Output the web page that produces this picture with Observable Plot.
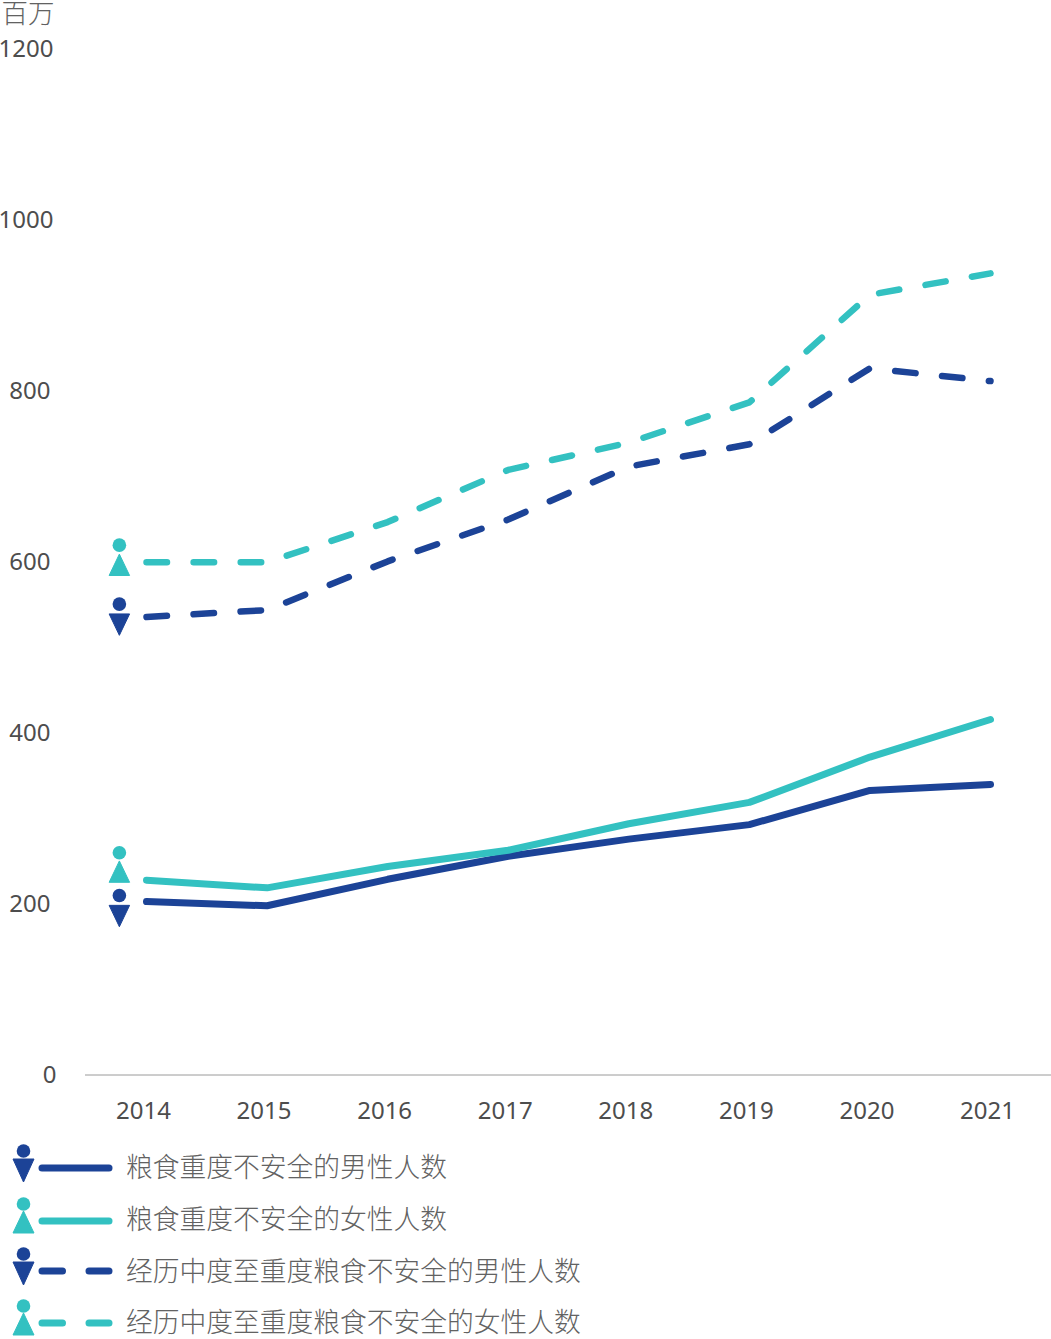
<!DOCTYPE html>
<html><head><meta charset="utf-8">
<script src="https://cdn.jsdelivr.net/npm/d3@7"></script>
<script src="https://cdn.jsdelivr.net/npm/@observablehq/plot@0.6"></script>
<style>
html,body{margin:0;padding:0;background:#fff;width:1051px;height:1339px;overflow:hidden}
#chart{position:absolute;left:0;top:0}
.row{position:absolute;left:0;height:52px;width:1051px}
.row svg{position:absolute;left:0;top:0}
.row span{position:absolute;left:126px;font:300 26.75px/40px "Noto Sans CJK SC";color:#626262;white-space:nowrap}
</style></head><body>
<div id="chart"></div><div id="legend"></div>
<script>
const years=[2014,2015,2016,2017,2018,2019,2020,2021];
const severeMale=[203,198,229,256,276,293,333,340];
const severeFemale=[228,219,244,263,294,319,372,416];
const modSevMale=[536,544,601,650,712,738,827,812];
const modSevFemale=[600,600,647,708,740,787,913,938];
const yTicksWide=[1000,1200];
const yTicksNarrow=[200,400,600,800];
const yTickZero=[0];
const navy="#1c4397", teal="#33c1c1";
const iconYear=2013.775;
const circleMale=[210,551], triangleMale=[186,527];
const circleFemale=[260,620], triangleFemale=[238,597];
const labels=["粮食重度不安全的男性人数","粮食重度不安全的女性人数","经历中度至重度粮食不安全的男性人数","经历中度至重度粮食不安全的女性人数"];

const table=v=>years.map((year,i)=>({year,value:v[i]}));
const tri=dir=>({draw(c,s){const k=Math.sqrt(s)/2,w=k*1.1,h=k*1.15;
  c.moveTo(-w,-dir*h);c.lineTo(w,-dir*h);c.lineTo(0,dir*h);c.closePath();}});
const down=tri(1), up=tri(-1);
const common={x:"year",y:"value",strokeLinecap:"round",strokeLinejoin:"round"};
const dash="20.5,26.6";
const yAxis=(ticks,tickPadding)=>Plot.axisY({ticks,tickFormat:d=>String(d),tickSize:0,tickPadding,fontSize:24,label:null,fill:"#4d4d4d"});
const chart=Plot.plot({
  width:1051,height:1135,marginLeft:85,marginRight:0,marginTop:49,marginBottom:60.5,
  style:{fontFamily:"'Noto Sans'",fontSize:"24px",color:"#4d4d4d",background:"#fff"},
  x:{domain:[2014,2021],range:[146,990]},
  y:{domain:[0,1200]},
  marks:[
    Plot.axisX({ticks:years,tickFormat:d=>String(d),tickSize:0,tickPadding:27,dx:-3,fontSize:24,label:null,fill:"#4d4d4d"}),
    yAxis(yTicksWide,32),
    yAxis(yTicksNarrow,35),
    yAxis(yTickZero,29),
    Plot.ruleY([0],{stroke:"#9a9a9a",strokeWidth:1}),
    Plot.text(["百万"],{frameAnchor:"top-left",dx:-84,dy:-45,lineAnchor:"top",textAnchor:"start",fontSize:26.5,fontFamily:"'Noto Sans CJK SC'",fontWeight:300,fill:"#626262"}),
    Plot.line(table(modSevFemale),{...common,stroke:teal,strokeWidth:6.5,strokeDasharray:dash}),
    Plot.line(table(modSevMale),{...common,stroke:navy,strokeWidth:6.5,strokeDasharray:dash}),
    Plot.line(table(severeMale),{...common,stroke:navy,strokeWidth:7}),
    Plot.line(table(severeFemale),{...common,stroke:teal,strokeWidth:7}),
    Plot.dot(circleMale,{x:()=>iconYear,y:d=>d,r:6.8,fill:navy}),
    Plot.dot(circleFemale,{x:()=>iconYear,y:d=>d,r:6.8,fill:teal}),
    Plot.dot(triangleMale,{x:()=>iconYear,y:d=>d,r:10.5,symbol:down,fill:navy,stroke:navy,strokeWidth:1,strokeLinejoin:"round"}),
    Plot.dot(triangleFemale,{x:()=>iconYear,y:d=>d,r:10.5,symbol:up,fill:teal,stroke:teal,strokeWidth:1,strokeLinejoin:"round"})
  ]
});
document.getElementById("chart").append(chart);

const rows=[
 {c:navy,male:true,dashed:false,top:1147,text:5},
 {c:teal,male:false,dashed:false,top:1200,text:4},
 {c:navy,male:true,dashed:true,top:1250,text:6},
 {c:teal,male:false,dashed:true,top:1302,text:5}
];
const lg=document.getElementById("legend");
rows.forEach((r,i)=>{
  const d=document.createElement("div");d.className="row";d.style.top=(r.top-6)+"px";
  const tp=r.male?"13,18 34,18 23.5,41":"23.5,17 34,39 13,39";
  d.innerHTML=`<svg width="120" height="50" overflow="visible"><circle cx="23.5" cy="10" r="6.8" fill="${r.c}"/>
  <polygon points="${tp}" fill="${r.c}" stroke="${r.c}" stroke-linejoin="round"/>
  <line x1="42" x2="109" y1="27" y2="27" stroke="${r.c}" stroke-width="7" stroke-linecap="round" ${r.dashed?'stroke-dasharray="20.5,26.5"':''}/></svg><span style="top:${r.text}px">${labels[i]}</span>`;
  lg.append(d);
});
</script></body></html>
